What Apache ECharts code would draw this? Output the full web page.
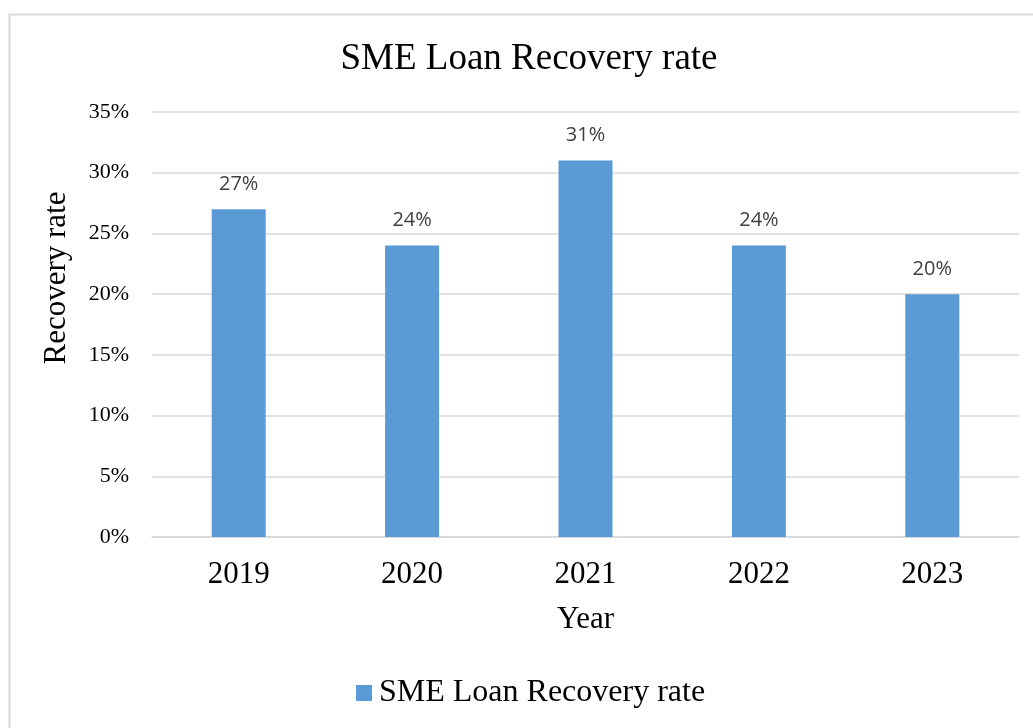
<!DOCTYPE html>
<html>
<head>
<meta charset="utf-8">
<script src="https://cdn.jsdelivr.net/npm/echarts@6/dist/echarts.min.js"></script>
<style>
  html, body { margin: 0; padding: 0; background: #fff; }
  #chart { width: 1033px; height: 728px; }
</style>
</head>
<body>
<div id="chart"></div>
<script>
// SME loan recovery rate by year (percent)
const years = ['2019', '2020', '2021', '2022', '2023'];
const recoveryRate = [27, 24, 31, 24, 20];
const seriesName = 'SME Loan Recovery rate';

const serif = '"Liberation Serif", "Times New Roman", serif';
const chart = echarts.init(document.getElementById('chart'));

chart.setOption({
  animation: false,
  backgroundColor: '#ffffff',
  graphic: [
    {
      type: 'rect',
      shape: { x: 9.5, y: 14.5, width: 1100, height: 800 },
      style: { fill: 'none', stroke: '#d9d9d9', lineWidth: 2 },
      silent: true
    },
    {
      type: 'text',
      x: 529, y: 59,
      style: {
        text: 'SME Loan Recovery rate',
        font: '37px ' + serif,
        fill: '#000000',
        textAlign: 'center',
        textVerticalAlign: 'middle'
      }
    },
    {
      type: 'text',
      x: 57, y: 278,
      rotation: Math.PI / 2,
      style: {
        text: 'Recovery rate',
        font: '31px ' + serif,
        fill: '#000000',
        textAlign: 'center',
        textVerticalAlign: 'middle'
      }
    }
  ],
  grid: { left: 152, right: 14, top: 112, bottom: 191, containLabel: false },
  legend: {
    data: [seriesName],
    left: 356,
    top: 677,
    padding: 0,
    itemGap: 0,
    icon: 'rect',
    itemWidth: 16,
    itemHeight: 16,
    textStyle: { fontFamily: serif, fontSize: 32, color: '#000000', padding: [0, 0, 0, 2] }
  },
  xAxis: {
    type: 'category',
    data: years,
    name: 'Year',
    nameLocation: 'middle',
    nameGap: 67,
    nameTextStyle: { fontFamily: serif, fontSize: 31, color: '#000000' },
    axisTick: { show: false },
    axisLine: { lineStyle: { color: '#d9d9d9', width: 1.5 } },
    axisLabel: { fontFamily: serif, fontSize: 31, color: '#000000', margin: 22 }
  },
  yAxis: {
    type: 'value',
    min: 0,
    max: 35,
    interval: 5,
    axisLine: { show: false },
    axisTick: { show: false },
    splitLine: { lineStyle: { color: '#d9d9d9', width: 1.5 } },
    axisLabel: {
      fontFamily: serif, fontSize: 22, color: '#000000', margin: 23,
      formatter: v => v + '%'
    }
  },
  series: [{
    name: seriesName,
    type: 'bar',
    data: recoveryRate,
    barWidth: 54,
    itemStyle: { color: '#5b9bd5' },
    label: {
      show: true,
      position: 'top',
      distance: 15,
      formatter: p => p.value + '%',
      fontFamily: '"Open Sans", "Noto Sans", sans-serif',
      fontSize: 20,
      color: '#404040'
    }
  }]
});
</script>
</body>
</html>
